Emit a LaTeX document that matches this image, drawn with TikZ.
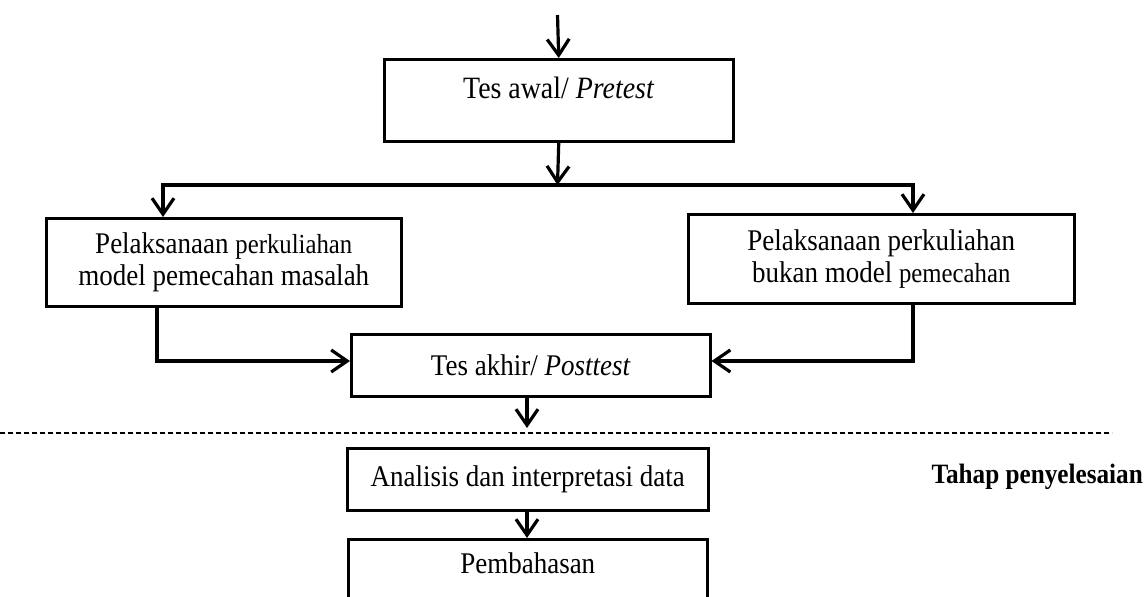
\documentclass[tikz,border=0pt]{standalone}
\usepackage{fontspec}
\setmainfont{Liberation Serif}[FakeStretch=0.9]
\usetikzlibrary{arrows.meta}
\tikzset{
  boxnode/.style={draw, line width=2.5pt, rectangle, anchor=north west, inner sep=0pt, align=center, font=\fontsize{30}{32}\selectfont},
  conn/.style={line width=3.2pt, line join=miter},
  arr/.style={conn, -{Straight Barb[length=16pt,width=22pt,line width=3.2pt]}},
  dashline/.style={line width=1.6pt, dash pattern=on 5pt off 3pt},
  stagelabel/.style={font=\fontsize{28}{30}\selectfont\bfseries, inner sep=0pt}
}
\newcommand{\smallw}[1]{{\fontsize{27.5}{32}\selectfont #1}}
\begin{document}
\begin{tikzpicture}[x=1pt,y=-1pt]
\useasboundingbox (0,0) rectangle (1146,597);
\clip (0,0) rectangle (1146,597);
% boxes
\node[boxnode, minimum width=349pt, minimum height=82pt, text height=39pt, text depth=43pt, font=\fontsize{31}{32}\selectfont] (b1) at (383,58) {Tes awal/ \textit{Pretest}};
\node[boxnode, minimum width=355pt, minimum height=88pt] (b2) at (45,217) {Pelaksanaan \smallw{perkuliahan}\\model pemecahan masalah};
\node[boxnode, minimum width=386pt, minimum height=89pt] (b3) at (687,213) {Pelaksanaan perkuliahan\\bukan model \smallw{pemecahan}};
\node[boxnode, minimum width=359pt, minimum height=62pt] (b4) at (350,333) {Tes akhir/ \textit{Posttest}};
\node[boxnode, minimum width=361pt, minimum height=62pt] (b5) at (346,447) {Analisis dan interpretasi data};
\node[boxnode, minimum width=359pt, minimum height=80pt, text height=34pt, text depth=46pt] (b6) at (347,538) {Pembahasan};
\node[stagelabel, anchor=base east] (stage) at (1143,483) {Tahap penyelesaian};
% helper coordinates
\coordinate (t0) at (557.5,15);
\coordinate (j) at (557.5,185);
\coordinate (jl) at (163,185);
\coordinate (jr) at (913,185);
\coordinate (xL) at (157,0);
\coordinate (xR) at (913,0);
\coordinate (yA) at (0,361);
\coordinate (xm) at (527,0);
\coordinate (d1) at (527,428);
\coordinate (dl) at (0,433);
\coordinate (dr) at (1112,433);
% connectors
\draw[arr] (t0) -- (b1.north);
\draw[arr] (b1.south) -- (j);
\draw[arr] (j) -| (jl |- b2.north);
\draw[arr] (j) -| (jr |- b3.north);
\draw[arr] (b2.south -| xL) |- (b4.west |- yA);
\draw[arr] (b3.south -| xR) |- (b4.east |- yA);
\draw[arr] (b4.south -| xm) -- (d1);
\draw[arr] (b5.south -| xm) -- (b6.north -| xm);
\draw[dashline] (dl) -- (dr);
\end{tikzpicture}
\end{document}
